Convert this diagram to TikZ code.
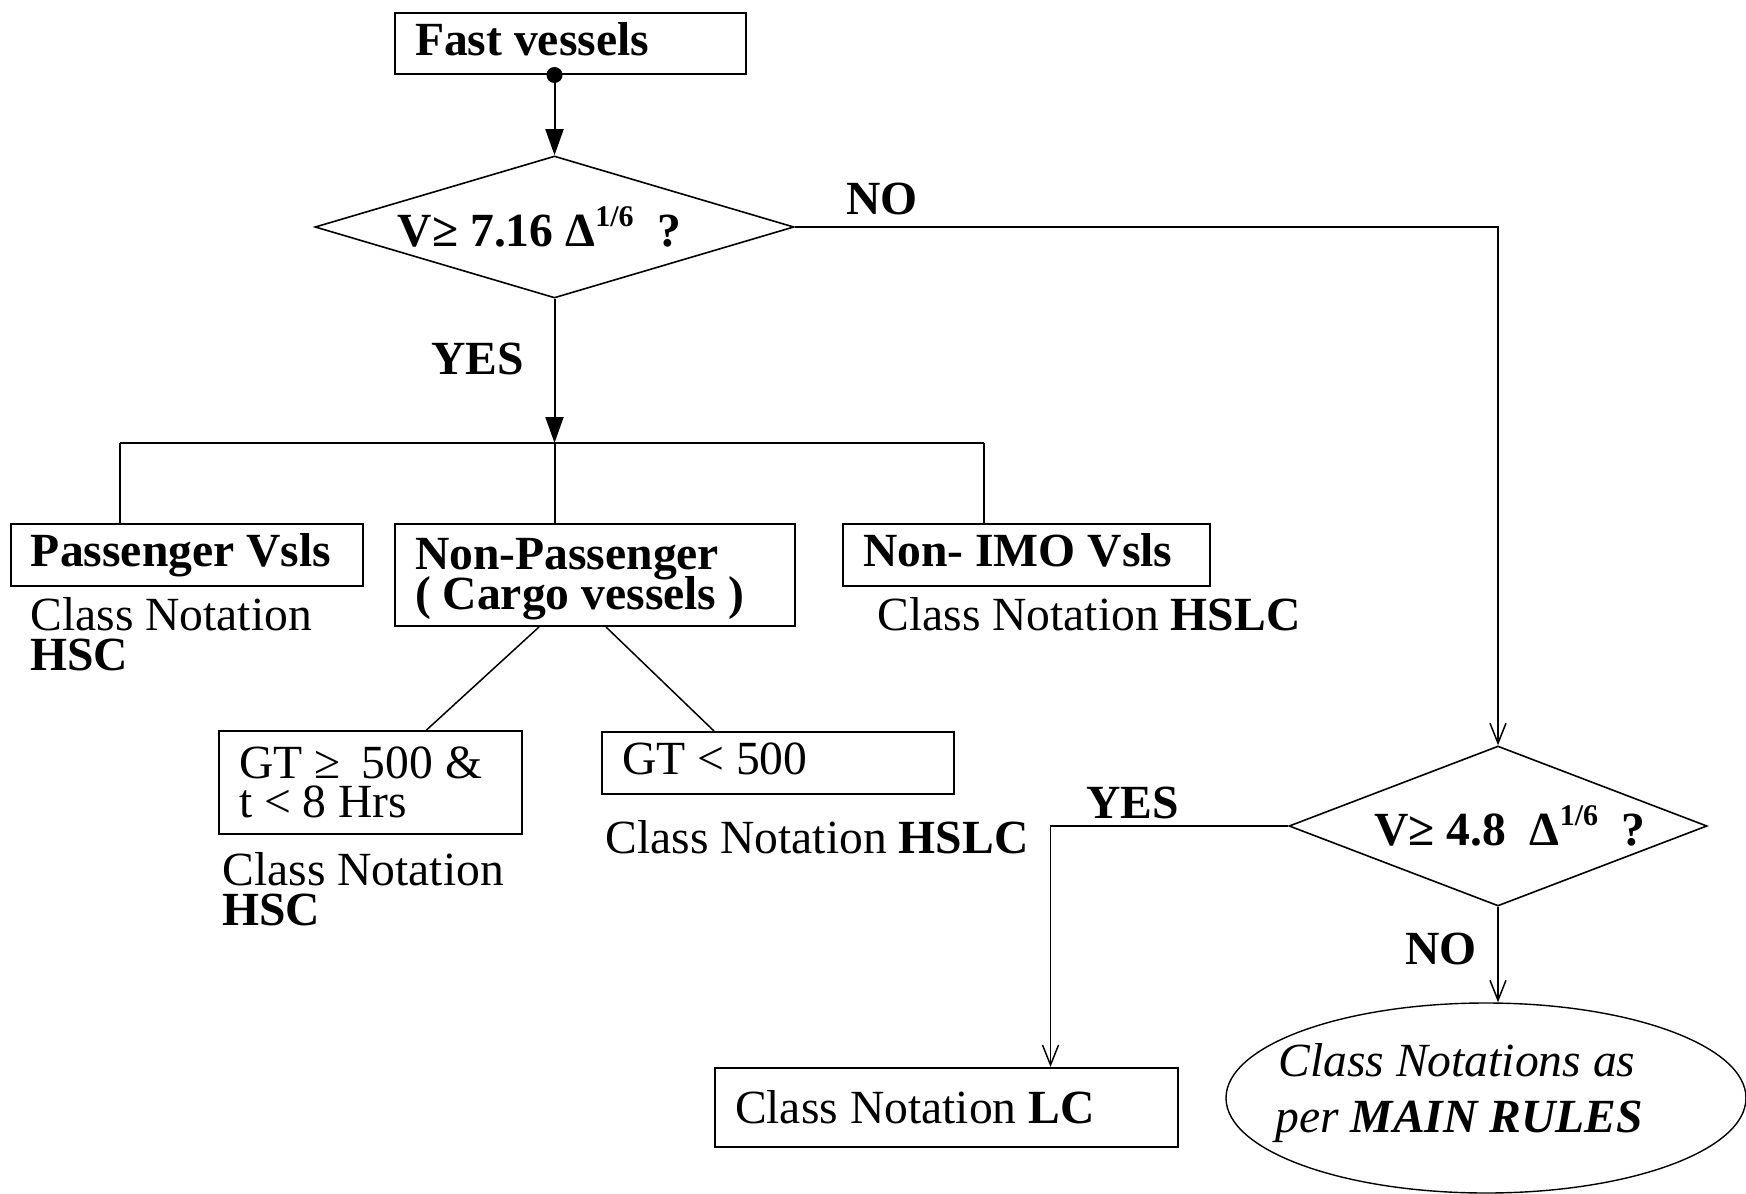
\documentclass[tikz,border=0pt]{standalone}
\usepackage{fontspec}
\setmainfont{Liberation Serif}
\usetikzlibrary{shapes.geometric,arrows.meta}
\newcommand{\supsix}{\raisebox{0.42em}{\fontsize{15}{15}\selectfont 1/6}}
\begin{document}
\lineskiplimit=-60pt
\begin{tikzpicture}[x=0.5pt,y=-0.5pt,
  txt/.style={font=\fontsize{23.8}{19.5}\selectfont, inner sep=0pt},
  lbl/.style={txt, anchor=base west},
  box/.style={draw, line width=1pt, txt, align=flush left, inner xsep=10pt, inner ysep=0pt, anchor=north west},
  decision/.style={shape=diamond, draw, line width=0.8pt, inner sep=0pt, txt, font=\fontsize{23.8}{19.5}\selectfont\bfseries},
  conn/.style={line width=1pt},
  thin/.style={line width=0.75pt},
  farrow/.style={line width=1pt, -{Triangle[length=13pt,width=9pt]}},
  varrow/.style={line width=0.75pt, -{Straight Barb[length=10pt,width=8pt]}}
]
\useasboundingbox (0,0) rectangle (1746,1194);

% boxes
\node[box, text width=155.5pt, minimum height=30.5pt, text depth=5pt] (fast) at (394,12) {\textbf{Fast vessels}};
\node[box, text width=156pt, minimum height=31pt] (pass) at (10,523) {\textbf{Passenger Vsls}};
\node[box, text width=180pt, minimum height=51pt] (nonpass) at (394,523) {\rule{0pt}{19.6pt}\textbf{Non-Passenger}\\[-2.8pt]\textbf{( Cargo vessels )}};
\node[box, text width=163.5pt, minimum height=31pt, text depth=5pt] (nonimo) at (842,523) {\textbf{Non- IMO Vsls}};
\node[box, text width=131.5pt, minimum height=51.5pt] (gtone) at (218,730) {GT ≥\hspace{0.45em}500 \&\\t < 8 Hrs};
\node[box, text width=156pt, minimum height=31pt, text depth=4pt] (gttwo) at (601,731) {GT < 500};
\node[box, text width=211.5pt, minimum height=39.5pt] (lc) at (714,1067) {Class Notation \textbf{LC}};

% decisions
\node[decision, aspect=3.37, minimum width=239.5pt, minimum height=71pt] (done) at (554.5,227) {V≥ 7.16 Δ\supsix\hspace{0.5em}?\hspace*{15pt}};
\node[decision, aspect=2.6, minimum width=209pt, minimum height=80pt] (dtwo) at (1498,826) {\hspace*{12pt}V≥ 4.8\hspace{0.5em}Δ\supsix\hspace{0.5em}?};

% ellipse
\node[ellipse, draw, line width=0.7pt, inner sep=0pt, minimum width=260pt, minimum height=95pt] (ell) at (1486,1098) {};
\node[lbl] (ellone) at (1278,1076) {\itshape Class Notations as};
\node[lbl] (elltwo) at (1275,1132) {\itshape per \textbf{MAIN RULES}};

% free texts
\node[lbl] (cnpa) at (30,630) {Class Notation};
\node[lbl] (cnpb) at (30,670) {\textbf{HSC}};
\node[lbl] (cnimo) at (877,630) {Class Notation \textbf{HSLC}};
\node[lbl] (cnga) at (222,885) {Class Notation};
\node[lbl] (cngb) at (222,925) {\textbf{HSC}};
\node[lbl] (cngt) at (605,853) {Class Notation \textbf{HSLC}};

% branch labels
\node[lbl] (noone) at (846,214) {\textbf{NO}};
\node[lbl] (yesone) at (431,374) {\textbf{YES}};
\node[lbl] (yestwo) at (1086,818) {\textbf{YES}};
\node[lbl] (notwo) at (1405,964) {\textbf{NO}};

% connectors
\coordinate (dot) at (done.north |- fast.south);
\fill (dot) circle (4pt);
\draw[farrow] (dot) -- (done.north);
\coordinate (jn) at (554.5,443);
\coordinate (jl) at (120,443);
\coordinate (jr) at (984,443);
\draw[farrow] (done.south) -- (jn);
\draw[conn] (jl) -- (jr);
\draw[conn] (jl) -- (jl |- pass.north);
\draw[conn] (jn) -- (jn |- nonpass.north);
\draw[conn] (jr) -- (jr |- nonimo.north);
\draw[thin] ([xshift=-28pt]nonpass.south) -- ([xshift=28pt]gtone.north);
\draw[thin] ([xshift=5.5pt]nonpass.south) -- ([xshift=-32pt]gttwo.north);
\draw[varrow] (done.east) -| (dtwo.north);
\draw[varrow] (dtwo.west) -| ([xshift=52pt]lc.north);
\draw[varrow] (dtwo.south) -- (dtwo.south |- ell.north);
\end{tikzpicture}
\end{document}
